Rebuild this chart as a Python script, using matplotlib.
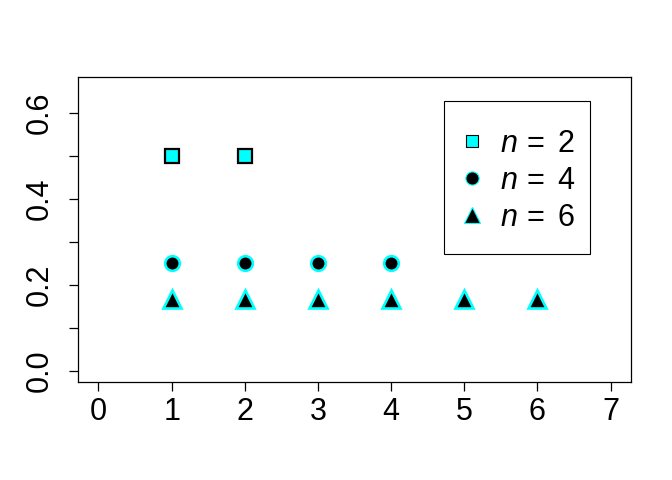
import matplotlib
matplotlib.use("Agg")
import matplotlib.pyplot as plt
from matplotlib.lines import Line2D
from matplotlib.patches import Rectangle

plt.rcParams['font.family'] = ['Liberation Sans', 'DejaVu Sans']
plt.rcParams['mathtext.fontset'] = 'custom'
plt.rcParams['mathtext.it'] = 'Liberation Sans:italic'
plt.rcParams['mathtext.rm'] = 'Liberation Sans'
plt.rcParams['mathtext.sf'] = 'Liberation Sans'

x_n2 = [1, 2]
y_n2 = [0.5, 0.5]
x_n4 = [1, 2, 3, 4]
y_n4 = [0.25, 0.25, 0.25, 0.25]
x_n6 = [1, 2, 3, 4, 5, 6]
y_n6 = [0.167, 0.167, 0.167, 0.167, 0.167, 0.167]
labels = ["$n\\,=\\ \\mathrm{2}$", "$n\\,=\\ \\mathrm{4}$", "$n\\,=\\ \\mathrm{6}$"]
xticks = [0, 1, 2, 3, 4, 5, 6, 7]
yticks_major = [0.0, 0.2, 0.4, 0.6]
yticks_minor = [0.1, 0.3, 0.5]

CYAN = '#00FFFF'

fig = plt.figure(figsize=(6.72, 4.8), dpi=100)
ax = fig.add_axes([78/672, 1-382/480, (631-78)/672, (382-77)/480])

ax.plot(x_n2, y_n2, ls='none', marker='s', ms=10, mfc=CYAN, mec='black', mew=1.6, zorder=3)
ax.plot(x_n4, y_n4, ls='none', marker='o', ms=10.5, mfc='black', mec=CYAN, mew=1.9, zorder=3)
ax.plot(x_n6, y_n6, ls='none', marker='^', ms=12.5, mfc='black', mec=CYAN, mew=1.9, zorder=3)

ax.set_xlim(-0.28, 7.28)
ax.set_ylim(-0.026, 0.684)
ax.set_xticks(xticks)
ax.set_yticks(yticks_major)
ax.set_yticks(yticks_minor, minor=True)
ax.tick_params(axis='both', which='both', direction='out', length=6.5, width=0.9, labelsize=22)
ax.tick_params(axis='x', pad=4)
ax.tick_params(axis='y', which='major', pad=10)
for lab in ax.get_yticklabels():
    lab.set_rotation(90)
    lab.set_va('center')
for s in ax.spines.values():
    s.set_linewidth(0.9)

handles = [
    Line2D([], [], ls='none', marker='s', ms=8, mfc=CYAN, mec='black', mew=0.8),
    Line2D([], [], ls='none', marker='o', ms=9.5, mfc='black', mec=CYAN, mew=0.8),
    Line2D([], [], ls='none', marker='^', ms=12, mfc='black', mec=CYAN, mew=0.8),
]
leg = ax.legend(handles, labels, loc='upper left', bbox_to_anchor=(0.662, 0.905),
                fontsize=22, frameon=False, borderpad=0.75, labelspacing=0.23,
                handlelength=0.33, handletextpad=0.75, borderaxespad=0)
ax.add_patch(Rectangle((0.6618, 0.4197), 0.9259 - 0.6618, 0.9213 - 0.4197,
                       transform=ax.transAxes, fill=False, edgecolor='black',
                       linewidth=0.8, zorder=4))

fig.savefig('out.png', dpi=100)
